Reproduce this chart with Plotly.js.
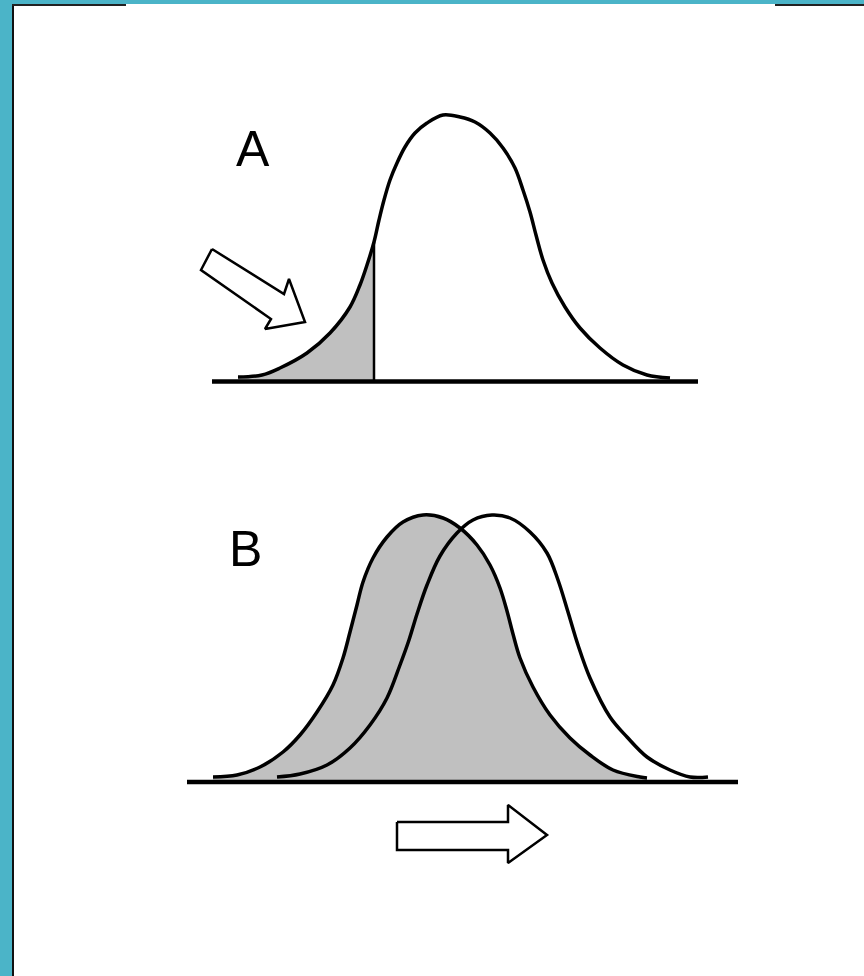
<!DOCTYPE html>
<html>
<head>
<meta charset="utf-8">
<script src="https://cdn.plot.ly/plotly-3.0.1.min.js"></script>
<style>
  html, body { margin: 0; padding: 0; background: #fff; }
  #myDiv { width: 864px; height: 976px; }
</style>
</head>
<body>
<div id="myDiv"></div>
<script>
// curve A (single distribution, left tail shaded)
var curveAX = [238, 262, 280, 307, 330, 350, 360, 367, 374, 379, 384, 390, 397, 405, 415, 427, 443, 460, 475, 490, 503, 515, 523, 530, 536, 543, 552, 565, 580, 600, 623, 647, 670];
var curveAY = [377, 375, 368, 353, 333, 307, 285, 265, 242, 220, 200, 180, 163, 147, 133, 123, 115, 117, 122, 133, 148, 168, 190, 212, 235, 260, 283, 307, 328, 348, 365, 375, 378];
var cutA = 374;

// curve B, shaded (left) and shifted outline (right)
var curveBX = [213, 237, 260, 283, 300, 317, 333, 343, 350, 357, 363, 373, 387, 403, 423, 443, 460, 477, 490, 500, 507, 513, 520, 533, 550, 570, 590, 613, 640, 647];
var curveBY = [777, 775, 767, 752, 735, 712, 685, 658, 632, 605, 582, 558, 537, 522, 515, 518, 528, 545, 565, 588, 611, 634, 658, 687, 715, 738, 755, 770, 777, 778];
var curveCX = [277, 300, 327, 350, 370, 387, 400, 409, 417, 427, 440, 457, 473, 492, 510, 530, 547, 558, 568, 578, 590, 610, 627, 647, 670, 690, 708];
var curveCY = [777, 774, 765, 748, 725, 698, 665, 640, 614, 585, 556, 533, 520, 515, 518, 532, 553, 580, 612, 645, 678, 717, 737, 757, 770, 777, 777];

// baselines
var baseA = {y: 381.5, x0: 212, x1: 698};
var baseB = {y: 782, x0: 187, x1: 738};

// arrows
var arrowAX = [212, 284, 289, 305, 265, 271, 201, 212];
var arrowAY = [249, 294, 279, 322, 329, 319, 270, 249];
var arrowBX = [397, 508, 508, 547, 508, 508, 397, 397];
var arrowBY = [822, 822, 805, 835, 863, 850, 850, 822];

var labels = ['A', 'B'];
var labelX = [253, 245];
var labelY = [149, 549];

var grey = '#c0c0c0';
var teal = '#4bb4c8';

// shaded tail of A
var tailX = [], tailY = [];
for (var i = 0; i < curveAX.length; i++) {
  if (curveAX[i] <= cutA) { tailX.push(curveAX[i]); tailY.push(curveAY[i]); }
}
tailX.push(cutA, curveAX[0]);
tailY.push(baseA.y, baseA.y);

var areaBX = curveBX.concat([curveBX[curveBX.length - 1], curveBX[0]]);
var areaBY = curveBY.concat([baseB.y, baseB.y]);

var data = [
  {x: tailX, y: tailY, type: 'scatter', mode: 'lines', line: {width: 0}, fill: 'toself', fillcolor: grey, hoverinfo: 'skip'},
  {x: curveAX, y: curveAY, type: 'scatter', mode: 'lines', line: {color: '#000', width: 3.5, shape: 'spline'}},
  {x: [cutA, cutA], y: [curveAY[curveAX.indexOf(cutA)], baseA.y], type: 'scatter', mode: 'lines', line: {color: '#000', width: 2.5}},
  {x: [baseA.x0, baseA.x1], y: [baseA.y, baseA.y], type: 'scatter', mode: 'lines', line: {color: '#000', width: 4.5}},
  {x: arrowAX, y: arrowAY, type: 'scatter', mode: 'lines', fill: 'toself', fillcolor: '#fff', line: {color: '#000', width: 2.5}},

  {x: areaBX, y: areaBY, type: 'scatter', mode: 'lines', line: {width: 0}, fill: 'toself', fillcolor: grey, hoverinfo: 'skip'},
  {x: curveBX, y: curveBY, type: 'scatter', mode: 'lines', line: {color: '#000', width: 3.5, shape: 'spline'}},
  {x: curveCX, y: curveCY, type: 'scatter', mode: 'lines', line: {color: '#000', width: 3.5, shape: 'spline'}},
  {x: [baseB.x0, baseB.x1], y: [baseB.y, baseB.y], type: 'scatter', mode: 'lines', line: {color: '#000', width: 4.5}},
  {x: arrowBX, y: arrowBY, type: 'scatter', mode: 'lines', fill: 'toself', fillcolor: '#fff', line: {color: '#000', width: 2.5}}
];

var layout = {
  width: 864,
  height: 976,
  margin: {l: 0, r: 0, t: 0, b: 0},
  paper_bgcolor: '#fff',
  plot_bgcolor: '#fff',
  showlegend: false,
  xaxis: {range: [0, 864], visible: false, fixedrange: true},
  yaxis: {range: [976, 0], visible: false, fixedrange: true},
  annotations: labels.map(function (t, i) {
    return {x: labelX[i], y: labelY[i], xref: 'x', yref: 'y', text: t, showarrow: false,
      xanchor: 'center', yanchor: 'middle', font: {family: 'Liberation Sans, Arial, sans-serif', size: 50, color: '#000'}};
  }),
  shapes: [
    {type: 'rect', xref: 'x', yref: 'y', x0: 0, x1: 12, y0: 0, y1: 976, fillcolor: teal, line: {width: 0}},
    {type: 'rect', xref: 'x', yref: 'y', x0: 0, x1: 864, y0: 0, y1: 4, fillcolor: teal, line: {width: 0}},
    {type: 'rect', xref: 'x', yref: 'y', x0: 12, x1: 14, y0: 4, y1: 976, fillcolor: '#111', line: {width: 0}},
    {type: 'rect', xref: 'x', yref: 'y', x0: 12, x1: 126, y0: 4, y1: 6, fillcolor: '#222', line: {width: 0}},
    {type: 'rect', xref: 'x', yref: 'y', x0: 775, x1: 864, y0: 4, y1: 6, fillcolor: '#222', line: {width: 0}}
  ]
};

Plotly.newPlot('myDiv', data, layout, {displayModeBar: false, staticPlot: true});
</script>
</body>
</html>
